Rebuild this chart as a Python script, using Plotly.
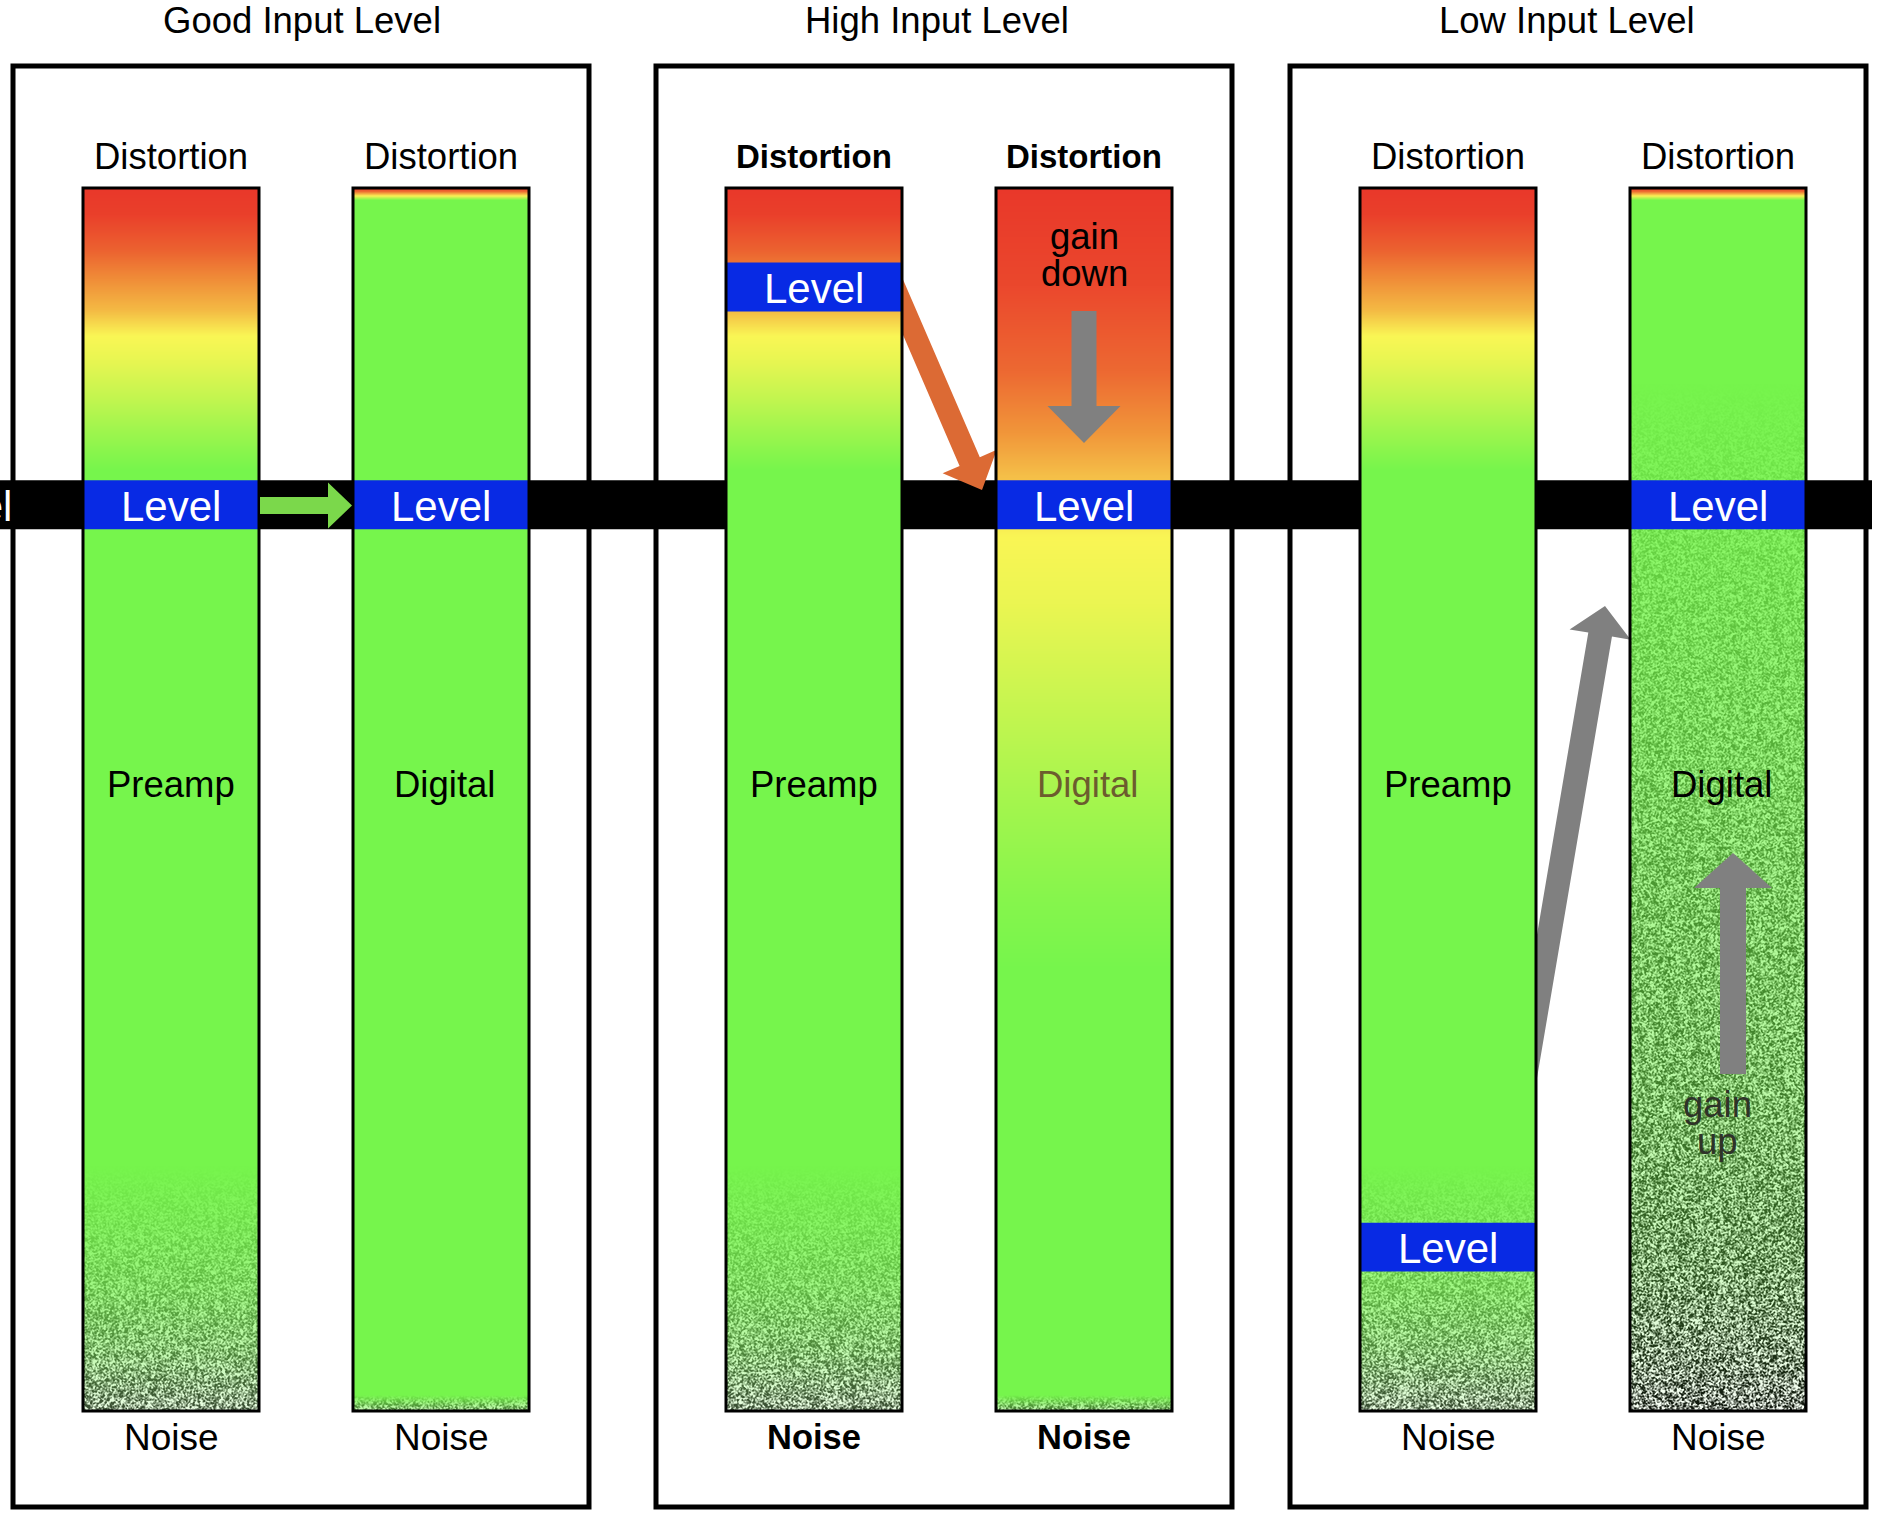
import base64
import struct
import zlib

import numpy as np
import plotly.graph_objects as go

# ---------------- data ----------------
scenarios = ["Good Input Level", "High Input Level", "Low Input Level"]
stage_names = ["Preamp", "Digital"]
top_label = "Distortion"
bottom_label = "Noise"
level_label = "Level"
# signal level marker (centre), in % of each stage's range: 0 = noise floor, 100 = clipping
preamp_level = [74.1, 91.9, 13.4]
digital_level = [74.1, 74.1, 74.1]
gain_words = [[], ["gain", "down"], ["gain", "up"]]
LEVEL_SPAN = 4.0  # height of the level marker in the same % units

# ---------------- layout constants (styling / geometry) ----------------
W, H = 1878, 1520
BAR_TOP_PX, BAR_BOT_PX = 188, 1411
PPU = (BAR_BOT_PX - BAR_TOP_PX) / 100.0  # pixels per % unit


def yu(py):
    """page-pixel row -> y axis units"""
    return (BAR_BOT_PX - py) / PPU


panel_left = [13, 656, 1290]
title_x = [302, 937, 1567]
PANEL_W = 576
PANEL_TOP, PANEL_BOT = 66, 1507
bar_offsets = [70, 340]
BAR_W = 176
FONT = "Liberation Sans, Arial, Helvetica, sans-serif"
GREEN = (118, 245, 76)
BLUE = "rgb(8,42,228)"
TXT = 36.5

# colour ramps (y units -> rgb)
preamp_stops = [
    (100.0, (233, 56, 42)), (97.8, (234, 64, 43)), (94.9, (236, 98, 48)),
    (92.6, (240, 140, 56)), (90.0, (244, 186, 68)), (87.9, (250, 246, 85)),
    (85.9, (232, 246, 82)), (83.2, (200, 245, 80)), (80.2, (160, 245, 78)),
    (76.9, GREEN),
]
digital_clean_stops = [
    (100.0, (233, 56, 42)), (99.7, (238, 110, 50)), (99.35, (250, 240, 85)),
    (99.0, GREEN),
]
digital_hot_stops = [
    (100.0, (233, 56, 42)), (92.0, (235, 72, 45)), (85.0, (237, 105, 50)),
    (80.0, (241, 150, 58)), (76.5, (245, 190, 72)), (73.5, (248, 225, 80)),
    (71.5, (250, 245, 85)), (66.0, (235, 246, 82)), (58.0, (200, 245, 80)),
    (50.0, (165, 245, 78)), (42.0, (135, 245, 76)), (36.0, GREEN),
]
noise_preamp = [(0, 0.85), (5, 0.55), (10, 0.32), (15, 0.15), (20, 0.0)]
noise_digital_clean = [(0, 0.65), (0.6, 0.35), (1.3, 0.0)]
noise_digital_low = [(0, 0.95), (4, 0.85), (12, 0.68), (25, 0.52), (45, 0.38),
                     (60, 0.25), (74, 0.12), (84, 0.0)]

bar_styles = [
    (preamp_stops, noise_preamp, 45), (digital_clean_stops, noise_digital_clean, 30),
    (preamp_stops, noise_preamp, 45), (digital_hot_stops, noise_digital_clean, 30),
    (preamp_stops, noise_preamp, 45), (digital_clean_stops, noise_digital_low, 10),
]


def png_uri(arr):
    h, w, _ = arr.shape
    raw = b"".join(b"\x00" + arr[i].tobytes() for i in range(h))

    def chunk(tag, data):
        return (struct.pack(">I", len(data)) + tag + data
                + struct.pack(">I", zlib.crc32(tag + data) & 0xFFFFFFFF))

    png = (b"\x89PNG\r\n\x1a\n"
           + chunk(b"IHDR", struct.pack(">IIBBBBB", w, h, 8, 2, 0, 0, 0))
           + chunk(b"IDAT", zlib.compress(raw, 9))
           + chunk(b"IEND", b""))
    return "data:image/png;base64," + base64.b64encode(png).decode()


def texture(h, w, seed):
    yy, xx = np.mgrid[0:h, 0:w].astype(np.float64)
    v = np.sin(xx * 12.9898 + yy * 78.233 + seed * 37.719) * 43758.5453
    n = v - np.floor(v)
    n = (n + np.roll(n, 1, 0) + np.roll(n, 1, 1) + np.roll(np.roll(n, 1, 0), 1, 1)) / 4
    return np.clip((n - 0.5) * 2.4 + 0.5, 0, 1)


def bar_image(stops, noise, dark, seed):
    h, w = BAR_BOT_PX - BAR_TOP_PX, BAR_W
    rows_y = yu(BAR_TOP_PX + np.arange(h) + 0.5)
    sy = np.array([s[0] for s in stops])[::-1]
    sc = np.array([s[1] for s in stops], dtype=float)[::-1]
    base = np.stack([np.interp(rows_y, sy, sc[:, k]) for k in range(3)], axis=1)
    base = np.repeat(base[:, None, :], w, axis=1)
    ny = np.array([p[0] for p in noise])
    nt = np.array([p[1] for p in noise])
    t = np.interp(rows_y, ny, nt)[:, None, None]
    g = dark + texture(h, w, seed)[:, :, None] * (255.0 - dark)
    img = base * (1 - t) + g * t
    return np.clip(img, 0, 255).astype(np.uint8)


def arrow_path(S, T, sw, hw, hl):
    S = np.array(S, float)
    T = np.array(T, float)
    u = (T - S) / np.linalg.norm(T - S)
    n = np.array([-u[1], u[0]])
    B = T - hl * u
    pts = [S + n * sw / 2, B + n * sw / 2, B + n * hw / 2, T,
           B - n * hw / 2, B - n * sw / 2, S - n * sw / 2]
    return "M " + " L ".join(f"{p[0]:.2f},{yu(p[1]):.4f}" for p in pts) + " Z"


fig = go.Figure()
shapes, annotations, images = [], [], []

# panel frames
for i, name in enumerate(scenarios):
    x0 = panel_left[i]
    shapes.append(dict(type="rect", xref="x", yref="y", layer="below",
                       x0=x0, x1=x0 + PANEL_W, y0=yu(PANEL_BOT), y1=yu(PANEL_TOP),
                       line=dict(color="black", width=5), fillcolor="white"))
    annotations.append(dict(x=title_x[i], y=yu(20), text=name, showarrow=False,
                            xref="x", yref="y", font=dict(size=36.5, color="black", family=FONT)))

# black signal band through the level of the good setting
band_c = digital_level[0]
shapes.append(dict(type="rect", xref="x", yref="y", layer="below", x0=0, x1=1872,
                   y0=band_c - LEVEL_SPAN / 2, y1=band_c + LEVEL_SPAN / 2,
                   line=dict(width=0), fillcolor="black"))
annotations.append(dict(x=14, y=band_c - 0.15, text=level_label, showarrow=False, xanchor="right",
                        xref="x", yref="y", font=dict(size=42, color="white", family=FONT)))

# arrows emerging from behind the bars
shapes.append(dict(type="path", xref="x", yref="y", layer="below",
                   path=arrow_path((880, 254), (982, 490), 22, 59, 31),
                   fillcolor="#dc6a34", line=dict(width=0)))
shapes.append(dict(type="path", xref="x", yref="y", layer="below",
                   path=arrow_path((1516, 1130), (1605, 606), 24, 62, 29),
                   fillcolor="#808080", line=dict(width=0)))

# bars
k = 0
for i in range(3):
    for j, stage in enumerate(stage_names):
        left = panel_left[i] + bar_offsets[j]
        stops, noise, dark = bar_styles[k]
        img = bar_image(stops, noise, dark, k + 1)
        images.append(dict(source=png_uri(img), xref="x", yref="y", x=left, y=100,
                           sizex=BAR_W, sizey=100, xanchor="left", yanchor="top",
                           sizing="stretch", layer="above"))
        lvl = preamp_level[i] if j == 0 else digital_level[i]
        shapes.append(dict(type="rect", xref="x", yref="y", layer="above",
                           x0=left + 1, x1=left + BAR_W - 1,
                           y0=lvl - LEVEL_SPAN / 2, y1=lvl + LEVEL_SPAN / 2,
                           line=dict(width=0), fillcolor=BLUE))
        shapes.append(dict(type="rect", xref="x", yref="y", layer="above",
                           x0=left, x1=left + BAR_W, y0=0, y1=100,
                           line=dict(color="black", width=3), fillcolor="rgba(0,0,0,0)"))
        cx = left + BAR_W / 2
        bold = "<b>%s</b>" if i == 1 else "%s"
        annotations.append(dict(x=cx, y=yu(156), text=bold % top_label, showarrow=False,
                                xref="x", yref="y",
                                font=dict(size=33 if i == 1 else TXT, color="black", family=FONT)))
        annotations.append(dict(x=cx, y=yu(1437), text=bold % bottom_label, showarrow=False,
                                xref="x", yref="y",
                                font=dict(size=34.5 if i == 1 else 37, color="black", family=FONT)))
        annotations.append(dict(x=cx, y=lvl - 0.15, text=level_label, showarrow=False,
                                xref="x", yref="y",
                                font=dict(size=42, color="white", family=FONT)))
        scol = "rgb(108,92,46)" if (i == 1 and j == 1) else "black"
        annotations.append(dict(x=cx + (3 if j == 1 else 0), y=yu(784), text=stage,
                                showarrow=False, xref="x", yref="y",
                                font=dict(size=TXT, color=scol, family=FONT)))
        k += 1

# small arrows & gain notes
shapes.append(dict(type="path", xref="x", yref="y", layer="above",
                   path=arrow_path((260, 505.5), (352, 505.5), 17, 46, 24),
                   fillcolor="#7bd84b", line=dict(width=0)))
shapes.append(dict(type="path", xref="x", yref="y", layer="above",
                   path=arrow_path((1084, 311), (1084, 443), 25, 73, 37),
                   fillcolor="#808080", line=dict(width=0)))
shapes.append(dict(type="path", xref="x", yref="y", layer="above",
                   path=arrow_path((1733, 1074), (1733, 853), 26, 78, 35),
                   fillcolor="#808080", line=dict(width=0)))
note_pos = {1: (1084, [236, 273], "black"), 2: (1717, [1104, 1141], "#2e3328")}
for i, words in enumerate(gain_words):
    if not words:
        continue
    cx, ys, col = note_pos[i]
    for w_, py in zip(words, ys):
        annotations.append(dict(x=cx, y=yu(py), text=w_, showarrow=False, xref="x", yref="y",
                                font=dict(size=TXT, color=col, family=FONT)))

fig.update_layout(
    width=W, height=H, margin=dict(l=0, r=0, t=0, b=0),
    paper_bgcolor="white", plot_bgcolor="white", showlegend=False,
    xaxis=dict(range=[0, W], visible=False, fixedrange=True),
    yaxis=dict(range=[yu(H), yu(0)], visible=False, fixedrange=True),
    shapes=shapes, annotations=annotations, images=images,
)
fig.write_html("out.html", config={"displayModeBar": False, "staticPlot": True},
               post_script="document.body.style.margin='0';")
